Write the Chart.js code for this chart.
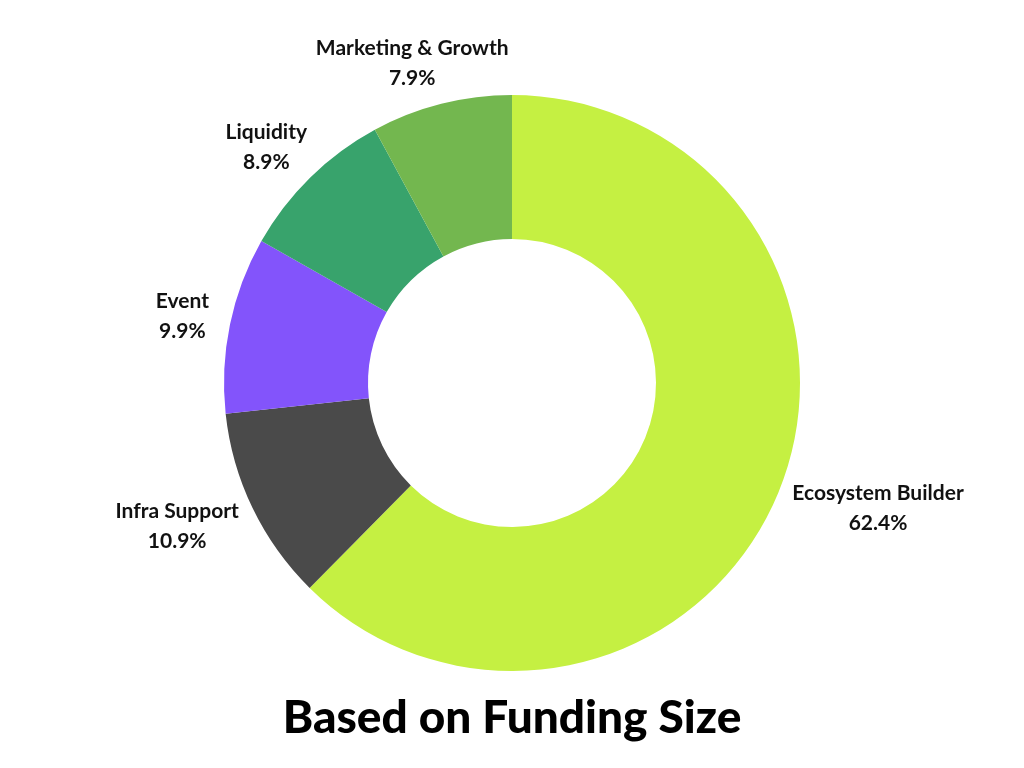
<!DOCTYPE html>
<html><head><meta charset="utf-8">
<script src="https://cdn.jsdelivr.net/npm/chart.js@4"></script>
<style>html,body{margin:0;background:#fff}#c{display:block}</style>
</head><body>
<div style="width:1024px;height:768px"><canvas id="c"></canvas></div>
<script>
const categories = ["Ecosystem Builder","Infra Support","Event","Liquidity","Marketing & Growth"];
const values = [62.4,10.9,9.9,8.9,7.9];
const colors = ["#c5f042","#4a4a4a","#8354fb","#38a36c","#73b74f"];
const titleText = "Based on Funding Size";
const FONT = "Lato, 'Open Sans', sans-serif";

const labelPlugin = {
  id:'labels',
  afterDraw(chart){
    const ctx = chart.ctx;
    const meta = chart.getDatasetMeta(0);
    ctx.save();
    ctx.fillStyle = '#111';
    ctx.textBaseline = 'middle';
    ctx.textAlign = 'center';
    meta.data.forEach((arc,i)=>{
      const mid = (arc.startAngle+arc.endAngle)/2;
      const r = arc.outerRadius + 22;
      ctx.font = "bold 21px " + FONT;
      const w = ctx.measureText(categories[i]).width;
      const dx = Math.cos(mid), dy = Math.sin(mid);
      const x = arc.x + dx*r + Math.sign(dx)*w/2*Math.abs(dx);
      const y = arc.y + dy*r + dy*20;
      ctx.fillText(categories[i], x, y-15);
      ctx.fillText(values[i].toFixed(1)+'%', x, y+15);
    });
    ctx.font = "900 46px " + FONT;
    ctx.fillStyle = '#000';
    ctx.fillText(titleText, chart.width/2, 718);
    ctx.restore();
  }
};

new Chart(document.getElementById('c'),{
  type:'doughnut',
  data:{labels:categories,datasets:[{data:values,backgroundColor:colors,borderWidth:0}]},
  options:{
    responsive:true,maintainAspectRatio:false,animation:false,
    cutout:'50%',
    layout:{padding:{top:95,bottom:97}},
    plugins:{legend:{display:false},tooltip:{enabled:false}}
  },
  plugins:[labelPlugin]
});
</script>
</body></html>
